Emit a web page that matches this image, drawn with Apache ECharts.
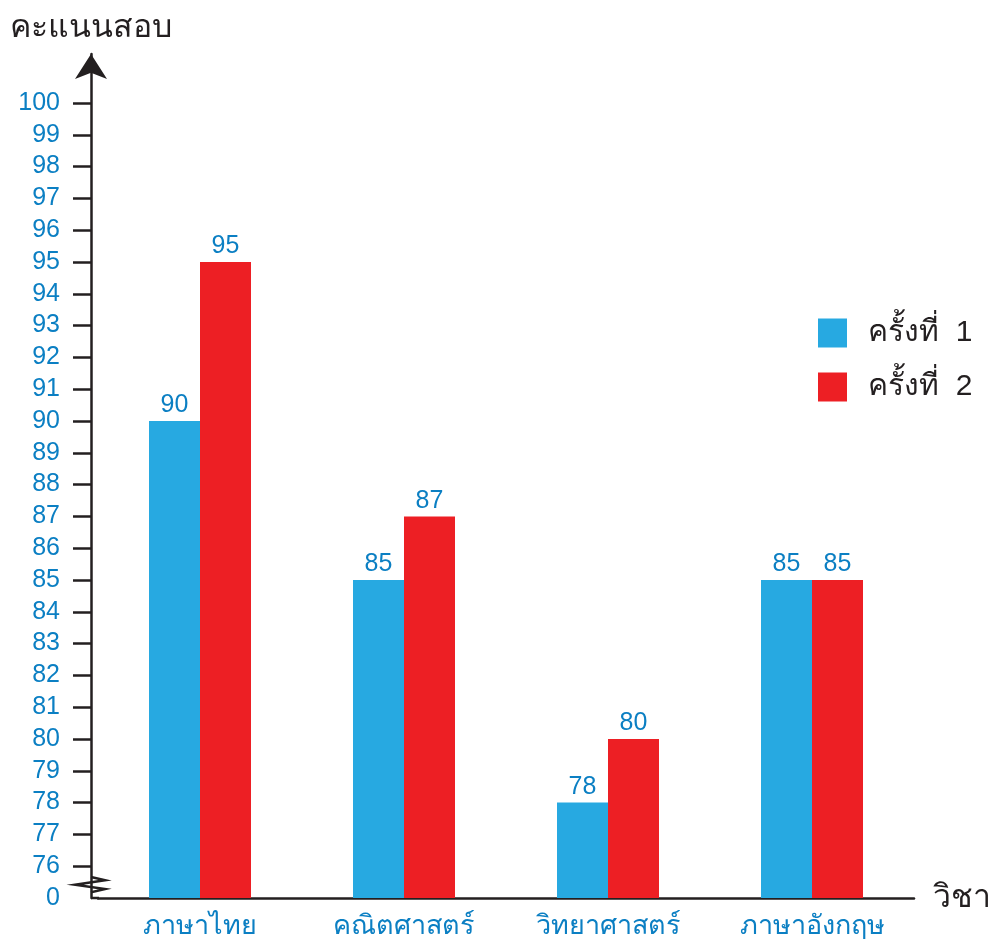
<!DOCTYPE html>
<html><head><meta charset="utf-8">
<script src="https://cdn.jsdelivr.net/npm/echarts@6/dist/echarts.min.js"></script>
<style>html,body{margin:0;padding:0;background:#fff}#c{width:992px;height:942px}</style>
</head><body><div id="c"></div>
<script>
const categories = ['ภาษาไทย', 'คณิตศาสตร์', 'วิทยาศาสตร์', 'ภาษาอังกฤษ'];
const round1 = [90, 85, 78, 85];
const round2 = [95, 87, 80, 85];
const seriesNames = ['ครั้งที่  1', 'ครั้งที่  2'];
const yLabelValues = [75,76,77,78,79,80,81,82,83,84,85,86,87,88,89,90,91,92,93,94,95,96,97,98,99,100];
const yTickValues = [76,77,78,79,80,81,82,83,84,85,86,87,88,89,90,91,92,93,94,95,96,97,98,99,100];

const FONT = 'Helvetica, Arial, "Liberation Sans", "Noto Sans", sans-serif';
const DARK = '#231f20';
const BLUE_TXT = '#0b7fc3';
const chart = echarts.init(document.getElementById('c'));
chart.setOption({
  animation: false,
  textStyle: {fontFamily: FONT},
  title: {text: 'คะแนนสอบ', left: 5, top: 7, textStyle: {fontSize: 32, fontWeight: 'normal', color: DARK, fontFamily: FONT}},
  legend: {
    orient: 'vertical', left: 813, top: 313, itemWidth: 29, itemHeight: 29, itemGap: 24,
    icon: 'rect',
    textStyle: {fontSize: 30, color: DARK, padding: [0, 0, 0, 16], fontFamily: FONT},
    data: seriesNames
  },
  grid: {left: 98, right: 78, top: 54, bottom: 44, outerBoundsMode: 'none', containLabel: false},
  xAxis: {
    type: 'category', data: categories,
    axisLine: {lineStyle: {color: DARK, width: 2.5}},
    axisTick: {show: false},
    axisLabel: {color: BLUE_TXT, fontSize: 27, margin: 15, fontFamily: FONT},
    name: 'วิชา', nameLocation: 'end', nameGap: 19,
    nameTextStyle: {fontSize: 32, color: DARK, fontFamily: FONT}
  },
  yAxis: {
    type: 'value', min: 75, max: 101.54, offset: 7,
    splitLine: {show: false},
    axisLine: {show: true, lineStyle: {color: DARK, width: 2.5}, symbol: ['none', 'arrow'], symbolSize: [24, 25]},
    axisTick: {show: true, length: 18, lineStyle: {color: DARK, width: 2.5}, customValues: yTickValues},
    axisLabel: {color: BLUE_TXT, fontSize: 25, margin: 31, fontFamily: FONT, customValues: yLabelValues,
      formatter: v => v === 75 ? '0' : String(v)}
  },
  series: [
    {name: seriesNames[0], type: 'bar', data: round1, barWidth: 51, barGap: '0%', itemStyle: {color: '#27a9e1'},
     label: {show: true, position: 'top', distance: 3, color: BLUE_TXT, fontSize: 25, fontFamily: FONT}},
    {name: seriesNames[1], type: 'bar', data: round2, barWidth: 51, barGap: '0%', itemStyle: {color: '#ed1f24'},
     label: {show: true, position: 'top', distance: 3, color: BLUE_TXT, fontSize: 25, fontFamily: FONT}}
  ]
});

// decorations: axis corner and zigzag break
const p75 = chart.convertToPixel({gridIndex: 0}, [0, 75]);
const p76 = chart.convertToPixel({gridIndex: 0}, [0, 76]);
const grid = chart.getModel().getComponent('grid').coordinateSystem.getRect();
const ax = grid.x - 7;
const y75 = p75[1], y76 = p76[1];
const step = y75 - y76;
chart.setOption({
  graphic: [
    {type: 'line', shape: {x1: ax, y1: y75, x2: grid.x + 1, y2: y75}, style: {stroke: DARK, lineWidth: 2.5}},
    {type: 'rect', shape: {x: ax - 3, y: y76 + step * 0.37, width: 6, height: step * 0.42}, style: {fill: '#fff'}},
    {type: 'polyline', shape: {points: [
      [ax, y76 + step * 0.34], [ax + 14, y76 + step * 0.44], [ax - 16, y76 + step * 0.58],
      [ax + 14, y76 + step * 0.72], [ax, y76 + step * 0.82]
    ]}, style: {stroke: DARK, lineWidth: 2.5, fill: 'none'}}
  ]
});
</script></body></html>
